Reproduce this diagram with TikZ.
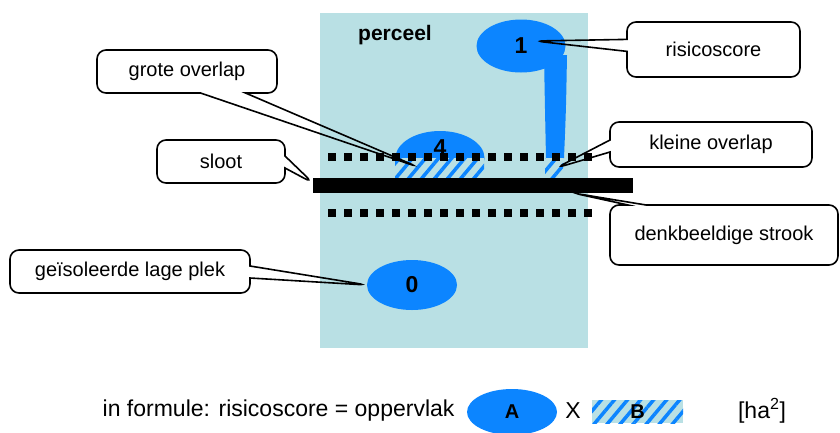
\documentclass[tikz,border=0pt]{standalone}
\usepackage{fontspec}
\setmainfont{Liberation Sans}
\usetikzlibrary{shapes.geometric,shapes.callouts,patterns.meta}
\definecolor{perceelblauw}{RGB}{185,224,228}
\definecolor{plekblauw}{RGB}{12,133,255}
\newcommand{\tekst}{\fontsize{20}{23}\selectfont}
\newcommand{\grotetekst}{\fontsize{23}{26}\selectfont}
\tikzset{
  balloon/.style={rectangle callout, draw, line width=1.6pt, rounded corners=9pt,
    minimum height=43pt, inner sep=0pt, callout pointer width=12pt, font=\tekst},
  plek/.style={ellipse, fill=plekblauw, inner sep=0pt, font=\grotetekst\bfseries},
  overlap/.style={rectangle, inner sep=0pt, fill=perceelblauw,
    postaction={pattern={Lines[angle=50,distance=10pt,line width=3.5pt]},
      pattern color=plekblauw}, font=\tekst\bfseries},
  stippel/.style={line width=8pt, dash pattern=on 8pt off 8pt}
}
\newcommand{\drawballoon}[5]{
  \node[balloon, #3, callout absolute pointer={(#4)}] (#1) at (#2) {#5};
}

\begin{document}
\begin{tikzpicture}[x=1pt,y=-1pt]
  \useasboundingbox (0,0) rectangle (840,432);
  % perceel
  \fill[perceelblauw] (320,13) rectangle (588,348);
  \node[font=\fontsize{21}{24}\selectfont\bfseries] (perceel) at (395,35) {perceel};
  % plekken
  \fill[plekblauw] (544,55) .. controls (545,110) .. (546,158) -- (564,158)
    .. controls (566,110) .. (567,55) -- cycle;
  \node[plek, minimum width=89pt, minimum height=53pt] (een) at (521,46) {1};
  \node[plek, minimum width=89pt, minimum height=54pt] (vier) at (440,158) {};
  \node[overlap, minimum width=89pt, minimum height=22pt] (groot) at (439.5,169) {};
  \node[overlap, minimum width=18pt, minimum height=19pt] (klein) at (554,167.5) {};
  \node[font=\grotetekst\bfseries] (vierlabel) at (440,148) {4};
  \node[plek, minimum width=90pt, minimum height=50pt] (nul) at (412,285) {0};
  % sloot en strook
  \fill (313,178) rectangle (633,193);
  \coordinate (sloot) at (313,183);
  \draw[stippel] (328,157) -- (592,157);
  \draw[stippel] (328,213) -- (592,213);
  % ballonnen
  \coordinate (p1) at (535,41);
  \coordinate (pgroot) at (418,167);
  \coordinate (pklein) at (556,168);
  \coordinate (pstrook) at (573,193);
  \coordinate (pnul) at (367,285);
  \drawballoon{bgroot}{187,71.5}{minimum width=180pt, callout pointer width=45pt}{pgroot}{grote overlap}
  \drawballoon{bsloot}{221,161.5}{minimum width=128pt}{sloot}{sloot}
  \drawballoon{bnul}{130,271.5}{minimum width=240pt}{pnul}{geïsoleerde lage plek}
  \drawballoon{brisico}{713.5,49.5}{minimum width=173pt, minimum height=55pt}{p1}{risicoscore}
  \drawballoon{bklein}{711,144.5}{minimum width=202pt, minimum height=45pt}{pklein}{kleine overlap}
  \drawballoon{bstrook}{724,235}{minimum width=228pt, minimum height=60pt, callout pointer width=18pt}{pstrook}{denkbeeldige strook}
  % formule
  \node[font=\grotetekst, anchor=east] (formule) at (458,411) {in formule: risicoscore = oppervlak};
  \node[plek, font=\tekst\bfseries, minimum width=90pt, minimum height=46pt] (A) at (512,412) {A};
  \node[font=\grotetekst] (maal) at (573,411) {X};
  \node[overlap, minimum width=91pt, minimum height=23pt] (B) at (637.5,411.5) {B};
  \node[font=\grotetekst] (eenheid) at (762,411) {[ha\textsuperscript{2}]};
\end{tikzpicture}
\end{document}
